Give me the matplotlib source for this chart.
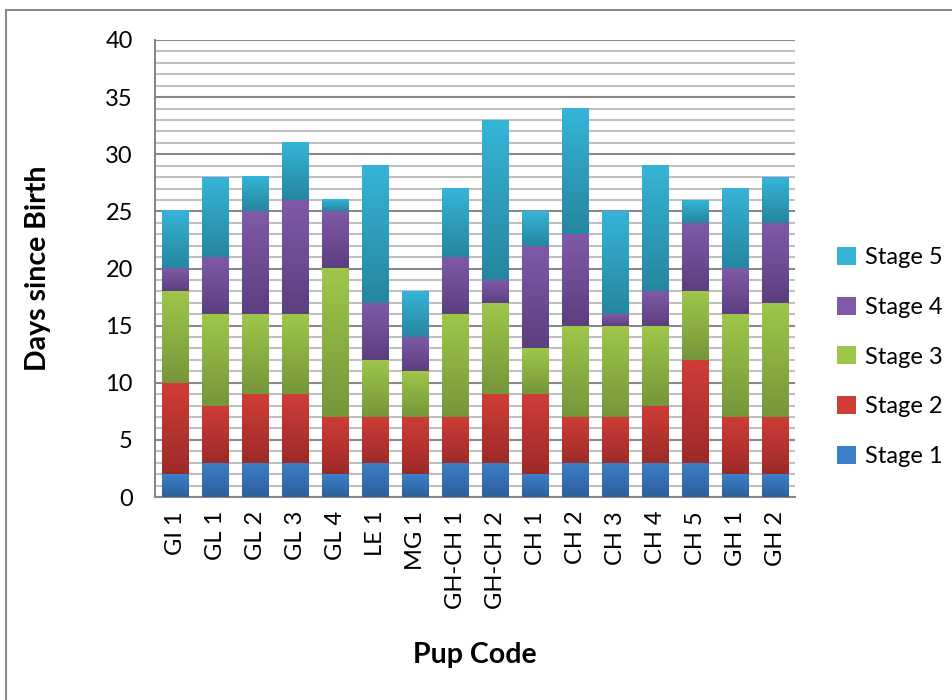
import numpy as np
import matplotlib.pyplot as plt
from matplotlib.colors import to_rgb
from matplotlib.patches import Patch, Rectangle

plt.rcParams['font.family'] = ['Lato', 'DejaVu Sans']

# data: days spent in each stage per pup
pups = ["GI 1", "GL 1", "GL 2", "GL 3", "GL 4", "LE 1", "MG 1", "GH-CH 1",
        "GH-CH 2", "CH 1", "CH 2", "CH 3", "CH 4", "CH 5", "GH 1", "GH 2"]
stage1 = [2, 3, 3, 3, 2, 3, 2, 3, 3, 2, 3, 3, 3, 3, 2, 2]
stage2 = [8, 5, 6, 6, 5, 4, 5, 4, 6, 7, 4, 4, 5, 9, 5, 5]
stage3 = [8, 8, 7, 7, 13, 5, 4, 9, 8, 4, 8, 8, 7, 6, 9, 10]
stage4 = [2, 5, 9, 10, 5, 5, 3, 5, 2, 9, 8, 1, 3, 6, 4, 7]
stage5 = [5, 7, 3, 5, 1, 12, 4, 6, 14, 3, 11, 9, 11, 2, 7, 4]
stages = [stage1, stage2, stage3, stage4, stage5]
names = ["Stage 1", "Stage 2", "Stage 3", "Stage 4", "Stage 5"]

# (top colour, bottom colour) for the gradient fill
colors = [("#3d7fc8", "#2d5f9c"),
          ("#d03c38", "#9c2b28"),
          ("#9ec74a", "#76963a"),
          ("#7f5aa9", "#5c3f7f"),
          ("#36b4d8", "#26869f")]

fig = plt.figure(figsize=(9.52, 7), dpi=100)
ax = fig.add_axes([155/952, 1 - 497/700, 640/952, 457/700])

x = np.arange(len(pups))
w = 0.67
bottom = np.zeros(len(pups))
for vals, (ctop, cbot) in zip(stages, colors):
    bars = ax.bar(x, vals, w, bottom=bottom, color='none', edgecolor='none', zorder=3)
    grad = np.linspace(to_rgb(ctop), to_rgb(cbot), 64).reshape(64, 1, 3)
    for b in bars:
        x0, y0 = b.get_x(), b.get_y()
        ax.imshow(grad, extent=[x0, x0 + b.get_width(), y0, y0 + b.get_height()],
                  aspect='auto', interpolation='bilinear', zorder=3)
    bottom += np.array(vals)

ax.set_xlim(-0.5, len(pups) - 0.5)
ax.set_ylim(0, 40)
ax.set_yticks(range(0, 41, 5))
ax.set_yticks(range(0, 41, 1), minor=True)
ax.grid(True, which='major', axis='y', color='#888888', linewidth=1.5, zorder=0)
ax.grid(True, which='minor', axis='y', color='#c0c0c0', linewidth=1.5, zorder=0)
ax.set_axisbelow(True)
ax.set_xticks(x)
ax.set_xticklabels(pups, rotation=90, fontsize=17)
ax.tick_params(axis='y', which='both', length=0, labelsize=17, pad=16)
ax.tick_params(axis='x', length=0, pad=10)
for s in ['top', 'right']:
    ax.spines[s].set_visible(False)
for s in ['left', 'bottom']:
    ax.spines[s].set_color('#888888')
    ax.spines[s].set_linewidth(1.5)

ax.set_ylabel("Days since Birth", fontsize=20.5, fontweight='bold', va='center')
ax.yaxis.set_label_coords((38 - 155) / 640, (497 - 268) / 457)
ax.set_xlabel("Pup Code", fontsize=20.5, fontweight='bold', va='center')
ax.xaxis.set_label_coords((475 - 155) / 640, (497 - 655) / 457)

handles = [Patch(facecolor=c[0], edgecolor='none') for c in colors]
leg = fig.legend(handles[::-1], names[::-1], loc='center left',
                 bbox_to_anchor=(828/952, 1 - 357/700), frameon=False,
                 fontsize=17, handlelength=0.8, handleheight=0.8,
                 handletextpad=0.35, labelspacing=1.2, borderaxespad=0)

# outer chart border
fig.patches.append(Rectangle((6/952, -0.1), 1.1, 1 - 10/700 + 0.1,
                             transform=fig.transFigure, fill=False,
                             edgecolor='#888888', linewidth=1.5))

fig.savefig("out.png", dpi=100)
